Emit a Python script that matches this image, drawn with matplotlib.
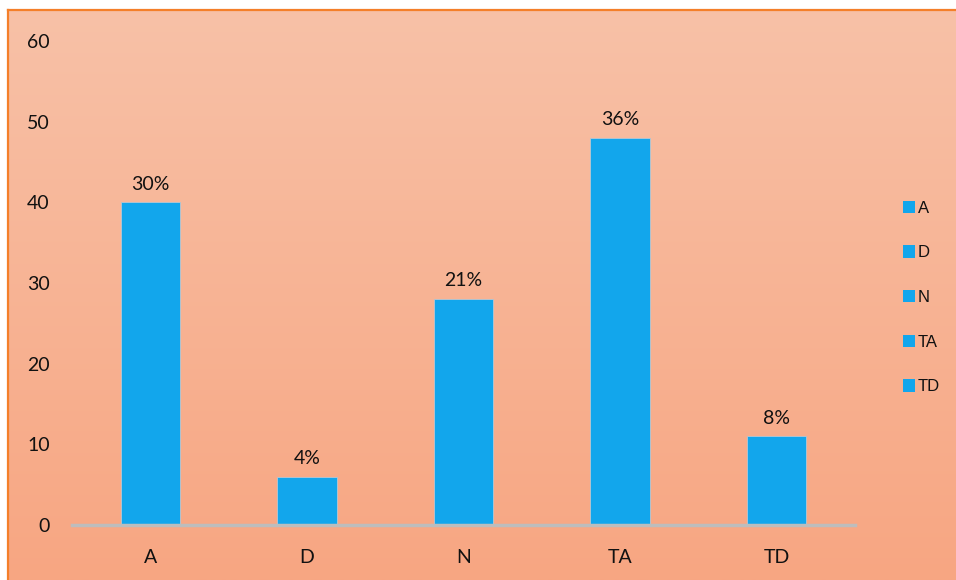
import numpy as np
import matplotlib
matplotlib.use("Agg")
import matplotlib.pyplot as plt
from matplotlib.patches import Patch
from matplotlib.lines import Line2D
import matplotlib.colors as mcolors

categories = ["A", "D", "N", "TA", "TD"]
counts = [40, 6, 28, 48, 11]
pct_labels = ["30%", "4%", "21%", "36%", "8%"]
y_ticks = [0, 10, 20, 30, 40, 50, 60]

bar_color = "#12A6EC"
top_bg = "#F8C1A7"
bottom_bg = "#F7A682"
border_color = "#F47F2A"

plt.rcParams["font.family"] = ["Lato", "DejaVu Sans"]

W, H = 956, 580
fig = plt.figure(figsize=(W / 100, H / 100), dpi=100)
fig.patch.set_facecolor("white")

# gradient panel behind the chart
bg = fig.add_axes([8 / W, 0, 1 - 8 / W, 1 - 10 / H])
bg.set_axis_off()
grad = np.linspace(0, 1, 256)[:, None]
cmap = mcolors.LinearSegmentedColormap.from_list("bg", [top_bg, bottom_bg])
bg.imshow(grad, aspect="auto", cmap=cmap, extent=[0, 1, 0, 1], origin="upper")
bg.set_xlim(0, 1)
bg.set_ylim(0, 1)
fig.add_artist(Line2D([8 / W, 8 / W], [0, 1 - 10 / H], color=border_color, lw=1.6))
fig.add_artist(Line2D([8 / W, 1], [1 - 10 / H, 1 - 10 / H], color=border_color, lw=1.6))

ax = fig.add_axes([72 / W, 1 - 525 / H, (855 - 72) / W, (525 - 41) / H])
ax.set_facecolor("none")
x = np.arange(len(categories))
ax.bar(x, counts, width=0.38, color=bar_color, edgecolor="#B9C7D2", linewidth=0.6, zorder=3)
for xi, v, lab in zip(x, counts, pct_labels):
    ax.annotate(lab, (xi, v), xytext=(0, 7), textcoords="offset points",
                ha="center", va="bottom", fontsize=14, color="#111111")

ax.set_xlim(-0.5, len(categories) - 0.5)
ax.set_ylim(0, 60)
ax.set_yticks(y_ticks)
ax.set_xticks(x)
ax.set_xticklabels(categories)
ax.tick_params(axis="both", length=0, labelsize=14, colors="#111111")
ax.tick_params(axis="y", pad=16)
ax.tick_params(axis="x", pad=17)
for s in ["top", "right", "left"]:
    ax.spines[s].set_visible(False)
ax.spines["bottom"].set_color("#BDBDBD")
ax.spines["bottom"].set_linewidth(2.5)
ax.spines["bottom"].set_zorder(4)

handles = [Patch(facecolor=bar_color, edgecolor="none") for _ in categories]
leg = fig.legend(handles, categories, loc="upper left",
                 bbox_to_anchor=(896 / W, 1 - 194 / H), frameon=False,
                 prop={"family": ["Liberation Sans", "DejaVu Sans"], "size": 12},
                 handlelength=0.75, handleheight=0.75,
                 handletextpad=0.15, labelspacing=1.78, borderaxespad=0)
for t in leg.get_texts():
    t.set_color("#111111")

fig.savefig("out.png", dpi=100, facecolor=fig.get_facecolor())
